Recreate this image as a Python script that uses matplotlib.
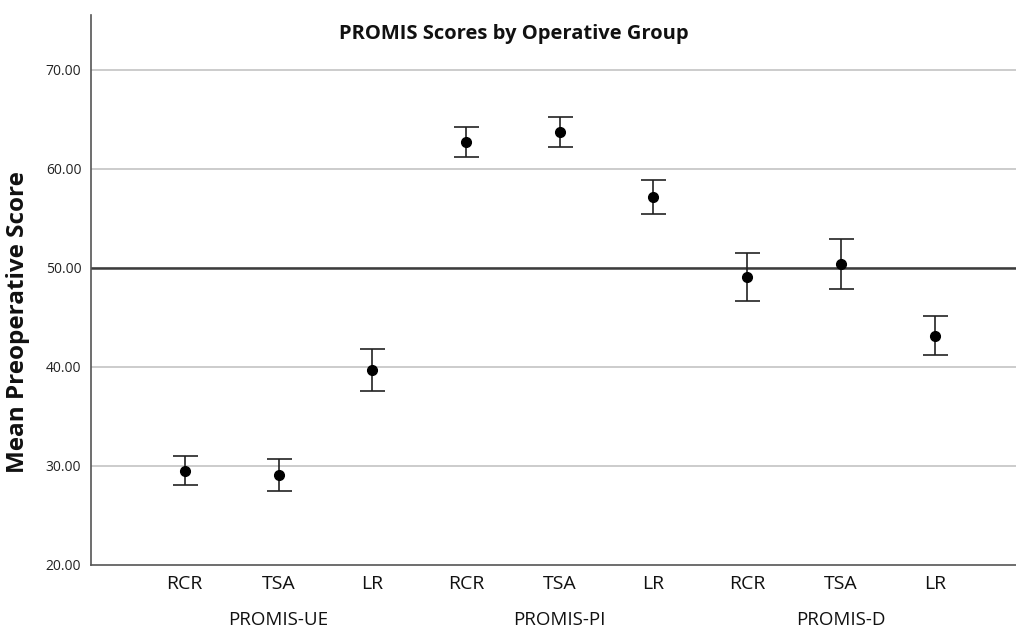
import numpy as np
import matplotlib
matplotlib.use("Agg")
import matplotlib.pyplot as plt

plt.rcParams['font.family'] = ['Open Sans', 'DejaVu Sans']

# data
groups = ['PROMIS-UE', 'PROMIS-PI', 'PROMIS-D']
procedures = ['RCR', 'TSA', 'LR']
means = [29.5, 29.1, 39.7,
         62.7, 63.7, 57.1,
         49.1, 50.4, 43.1]
upper = [31.0, 30.7, 41.8,
         64.2, 65.25, 58.8,
         51.5, 52.9, 45.1]
lower = [28.1, 27.5, 37.6,
         61.2, 62.2, 55.4,
         46.6, 47.9, 41.2]
yticks = [20, 30, 40, 50, 60, 70]
ref_score = 50

fig = plt.figure(figsize=(10.16, 6.28), dpi=100)
ax = fig.add_axes([91/1016, 63/628, 1 - 91/1016, (565-15)/628])

x = np.arange(1, len(means) + 1)
means = np.array(means)
yerr = np.array([means - np.array(lower), np.array(upper) - means])

for t in yticks[1:]:
    ax.axhline(t, color='#c8c8c8', lw=1.3, zorder=0)
ax.axhline(ref_score, color='#3c3c3c', lw=1.8, zorder=1)

ax.errorbar(x, means, yerr=yerr, fmt='o', color='black', ecolor='#222222',
            markersize=7, elinewidth=1.2, capsize=9, capthick=1.2, zorder=3)

ax.set_xlim(0, (1016 - 91) / 93.75)
ax.set_ylim(20, 75.5)
ax.set_yticks(yticks)
ax.set_yticklabels(['%.2f' % t for t in yticks], fontsize=10, color='#222222')
ax.tick_params(axis='y', length=0, pad=7)
ax.set_xticks(x)
ax.set_xticklabels(procedures * 3, fontsize=14, color='#111111')
ax.tick_params(axis='x', length=0, pad=7)

for s in ['top', 'right']:
    ax.spines[s].set_visible(False)
for s in ['left', 'bottom']:
    ax.spines[s].set_color('#555555')
    ax.spines[s].set_linewidth(1.2)

for i, g in enumerate(groups):
    ax.text(i * 3 + 2, -0.1, g, transform=ax.get_xaxis_transform(),
            ha='center', va='center', fontsize=13.5, color='#111111')

fig.text(18/1016, 1 - 322/628, 'Mean Preoperative Score', rotation=90,
         ha='center', va='center', fontsize=17.5, fontweight='bold', color='#111111')
fig.text(514/1016, 1 - 34/628, 'PROMIS Scores by Operative Group',
         ha='center', va='center', fontsize=14.5, fontweight='bold', color='#111111')

fig.savefig('out.png', dpi=100)
